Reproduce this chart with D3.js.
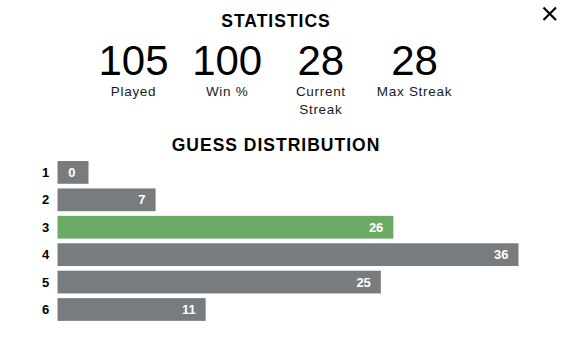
<!DOCTYPE html>
<html>
<head>
<meta charset="utf-8">
<script src="https://cdn.jsdelivr.net/npm/d3@7"></script>
<style>
    body { margin: 0; background: #fff; }
    svg { display: block; font-family: "Liberation Sans", Arial, sans-serif; }
</style>
</head>
<body>
<div id="chart"></div>
<script>
// stats row
let statValues = ["105", "100", "28", "28"];
let statLabels = [["Played"], ["Win %"], ["Current", "Streak"], ["Max Streak"]];

// guess distribution
let guesses = ["1", "2", "3", "4", "5", "6"];
let counts = [0, 7, 26, 36, 25, 11];
let highlight = "3";

let config = {
    width: 568,
    height: 339,
    gray: "#787c7e",
    green: "#6aaa64",
    text: "#000",
    barLeft: 57.5,
    minBar: 31
};

let svg = d3.select("#chart")
    .append("svg")
    .attr("width", config.width)
    .attr("height", config.height);

// close button
let close = svg.append("g")
    .attr("stroke", "#000")
    .attr("stroke-width", 2.2);
close.append("line").attr("x1", 543.5).attr("y1", 7.5).attr("x2", 556).attr("y2", 20);
close.append("line").attr("x1", 556).attr("y1", 7.5).attr("x2", 543.5).attr("y2", 20);

// headings
function heading(txt, y) {
    svg.append("text")
        .attr("x", 276)
        .attr("y", y)
        .attr("text-anchor", "middle")
        .attr("font-size", 17.5)
        .attr("font-weight", 700)
        .attr("letter-spacing", 1)
        .attr("fill", config.text)
        .text(txt);
}
heading("STATISTICS", 26.5);
heading("GUESS DISTRIBUTION", 151);

// statistics
let sx = d3.scalePoint()
    .domain(d3.range(statValues.length))
    .range([133.5, 414.5]);

let stat = svg.selectAll("g.stat")
    .data(statValues)
    .enter().append("g")
    .attr("class", "stat")
    .attr("transform", (d, i) => `translate(${sx(i)},0)`);

stat.append("text")
    .attr("y", 75)
    .attr("text-anchor", "middle")
    .attr("font-size", 42)
    .attr("fill", config.text)
    .text((d) => d);

stat.each(function (d, i) {
    d3.select(this).selectAll("text.lbl")
        .data(statLabels[i])
        .enter().append("text")
        .attr("class", "lbl")
        .attr("y", (l, j) => 96 + j * 17.5)
        .attr("text-anchor", "middle")
        .attr("font-size", 13.5)
        .attr("letter-spacing", 0.7)
        .attr("fill", "#1a1a1b")
        .text((l) => l);
});

// distribution bars
let y = d3.scaleBand()
    .domain(guesses)
    .range([158.7, 323.2])
    .paddingInner(0.17)
    .paddingOuter(0.085);

let w = d3.scaleLinear()
    .domain([0, d3.max(counts)])
    .range([10.5, 461]);

let rows = svg.selectAll("g.row")
    .data(guesses.map((g, i) => ({guess: g, count: counts[i]})))
    .enter().append("g")
    .attr("class", "row")
    .attr("transform", (d) => `translate(0,${y(d.guess)})`);

rows.append("text")
    .attr("x", 45.5)
    .attr("y", y.bandwidth() / 2 + 4.6)
    .attr("text-anchor", "middle")
    .attr("font-size", 13)
    .attr("font-weight", 700)
    .attr("fill", config.text)
    .text((d) => d.guess);

rows.append("rect")
    .attr("x", config.barLeft)
    .attr("width", (d) => Math.max(config.minBar, w(d.count)))
    .attr("height", y.bandwidth())
    .attr("fill", (d) => d.guess === highlight ? config.green : config.gray);

rows.append("text")
    .attr("x", (d) => config.barLeft + Math.max(config.minBar, w(d.count)) - (d.count === 0 ? 13 : 10))
    .attr("y", y.bandwidth() / 2 + 4.6)
    .attr("text-anchor", "end")
    .attr("font-size", 13)
    .attr("font-weight", 700)
    .attr("fill", "#fff")
    .text((d) => d.count);
</script>
</body>
</html>
